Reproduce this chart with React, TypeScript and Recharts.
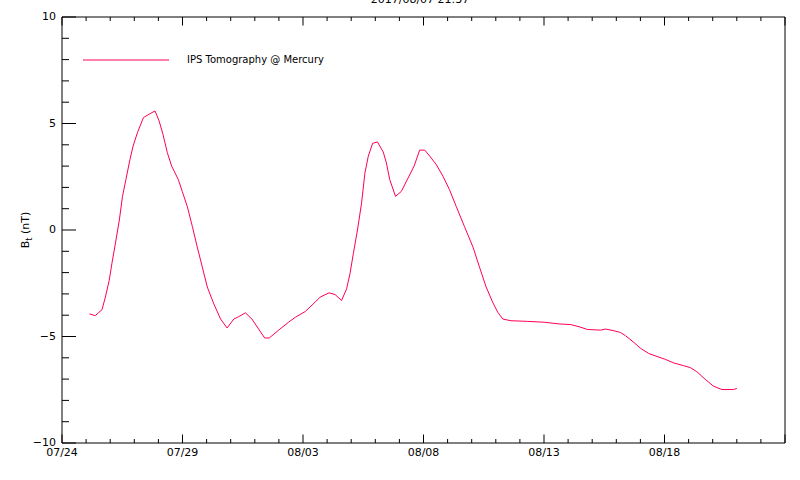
import React from "react";
import { LineChart, Line, XAxis, YAxis } from "recharts";

const dayOffsets = [
  1.14, 1.38, 1.66, 1.8, 1.96, 2.07, 2.24, 2.38, 2.51, 2.65, 2.82, 2.95, 3.13, 3.38, 3.62, 3.86,
  4.03, 4.19, 4.37, 4.55, 4.83, 4.99, 5.2, 5.41, 5.61, 5.82, 6.03, 6.3, 6.58, 6.85, 7.13, 7.33,
  7.61, 7.88, 8.16, 8.41, 8.6, 8.99, 9.4, 9.68, 10.09, 10.5, 10.71, 11.08, 11.33, 11.6, 11.81,
  11.95, 12.09, 12.26, 12.43, 12.57, 12.71, 12.89, 13.09, 13.33, 13.46, 13.6, 13.84, 14.08,
  14.36, 14.61, 14.84, 15.05, 15.26, 15.53, 15.81, 16.08, 16.36, 16.7, 17.05, 17.32, 17.6,
  17.87, 18.08, 18.29, 18.63, 19.32, 20.01, 20.63, 21.11, 21.45, 21.8, 22.35, 22.55, 22.9,
  23.17, 23.38, 23.73, 24.0, 24.35, 24.69, 25.03, 25.38, 25.79, 26.07, 26.34, 26.69, 27.03,
  27.38, 27.86, 28.0,
];

const btValues = [
  -3.94, -4.02, -3.74, -3.15, -2.36, -1.58, -0.47, 0.47, 1.58, 2.36, 3.31, 3.94, 4.57, 5.28, 5.44,
  5.59, 5.12, 4.49, 3.63, 3.0, 2.36, 1.81, 1.1, 0.16, -0.79, -1.73, -2.68, -3.47, -4.18, -4.6,
  -4.18, -4.07, -3.89, -4.18, -4.65, -5.07, -5.07, -4.7, -4.33, -4.1, -3.83, -3.39, -3.15, -2.95,
  -3.03, -3.31, -2.76, -2.05, -1.1, 0.0, 1.26, 2.68, 3.47, 4.07, 4.13, 3.66, 3.15, 2.36, 1.58,
  1.81, 2.44, 3.0, 3.75, 3.75, 3.47, 3.07, 2.52, 1.89, 1.1, 0.16, -0.79, -1.73, -2.68, -3.39,
  -3.86, -4.18, -4.26, -4.29, -4.33, -4.41, -4.44, -4.54, -4.67, -4.7, -4.65, -4.73, -4.81,
  -4.96, -5.28, -5.55, -5.8, -5.94, -6.07, -6.24, -6.37, -6.46, -6.65, -7.01, -7.33, -7.49,
  -7.49, -7.44,
];

const xTickDays = Array.from({ length: 31 }, (_, i) => i);
const xTickLabels: Record<number, string> = {
  0: "07/24",
  5: "07/29",
  10: "08/03",
  15: "08/08",
  20: "08/13",
  25: "08/18",
};
const yTickValues = Array.from({ length: 21 }, (_, i) => i - 10);
const yTickLabels: Record<number, string> = {
  10: "10",
  5: "5",
  0: "0",
  [-5]: "\u22125",
  [-10]: "\u221210",
};

const seriesName = "IPS Tomography @ Mercury";
const titleText = "2017/08/07 21:37";
const lineColor = "#ff0050";
const FONT = "'DejaVu Sans', sans-serif";

const data = dayOffsets.map((d, i) => ({ day: d, bt: btValues[i] }));

const BottomTick = (props: any) => {
  const { x, y, payload } = props;
  const v = payload.value as number;
  const major = v % 5 === 0;
  const len = major ? 8.5 : 4;
  return (
    <g>
      <line x1={x} y1={y} x2={x} y2={y - len} stroke="#000" strokeWidth={1} />
      {xTickLabels[v] !== undefined && (
        <text x={x} y={y + 13} textAnchor="middle" fontSize={11} fontFamily={FONT} fill="#000">
          {xTickLabels[v]}
        </text>
      )}
    </g>
  );
};

const TopTick = (props: any) => {
  const { x, y, payload } = props;
  const v = payload.value as number;
  const len = v % 5 === 0 ? 8.5 : 4;
  return <line x1={x} y1={y} x2={x} y2={y + len} stroke="#000" strokeWidth={1} />;
};

const LeftTick = (props: any) => {
  const { x, y, payload } = props;
  const v = payload.value as number;
  const major = v % 5 === 0;
  const len = major ? 14 : 7;
  return (
    <g>
      <line x1={x} y1={y} x2={x + len} y2={y} stroke="#000" strokeWidth={1} />
      {yTickLabels[v] !== undefined && (
        <text x={x - 6} y={y + 3} textAnchor="end" fontSize={11} fontFamily={FONT} fill="#000">
          {yTickLabels[v]}
        </text>
      )}
    </g>
  );
};

const YLabel = (props: any) => {
  const vb = props.viewBox || { x: 61, y: 17, height: 426 };
  const cx = vb.x - 32;
  const cy = vb.y + vb.height / 2;
  return (
    <text
      x={cx}
      y={cy}
      transform={`rotate(-90 ${cx} ${cy})`}
      textAnchor="middle"
      fontSize={11}
      fontFamily={FONT}
      fill="#000"
    >
      B
      <tspan fontSize={8} dy={3}>
        t
      </tspan>
      <tspan dy={-3}> (nT)</tspan>
    </text>
  );
};

export default function App() {
  return (
    <div style={{ position: "absolute", left: 0, top: 0, width: 800, height: 480, background: "#fff", overflow: "hidden" }}>
      <div
        style={{
          position: "absolute",
          left: 0,
          top: -6,
          width: 840,
          textAlign: "center",
          fontFamily: FONT,
          fontSize: 11,
          lineHeight: "12px",
          color: "#000",
        }}
      >
        {titleText}
      </div>
      <LineChart
        width={800}
        height={480}
        data={data}
        margin={{ top: 16, right: 14, bottom: 7, left: 61 }}
      >
        <XAxis
          xAxisId="bottom"
          dataKey="day"
          type="number"
          domain={[0, 30]}
          ticks={xTickDays}
          interval={0}
          allowDataOverflow
          height={30}
          tickSize={0}
          tickMargin={0}
          tickLine={false}
          axisLine={{ stroke: "#000" }}
          tick={<BottomTick />}
        />
        <XAxis
          xAxisId="top"
          orientation="top"
          dataKey="day"
          type="number"
          domain={[0, 30]}
          ticks={xTickDays}
          interval={0}
          allowDataOverflow
          height={1}
          tickSize={0}
          tickMargin={0}
          tickLine={false}
          axisLine={{ stroke: "#000" }}
          tick={<TopTick />}
        />
        <YAxis
          yAxisId="left"
          type="number"
          domain={[-10, 10]}
          ticks={yTickValues}
          interval={0}
          allowDataOverflow
          width={1}
          tickSize={0}
          tickMargin={0}
          tickLine={false}
          axisLine={{ stroke: "#000" }}
          tick={<LeftTick />}
          label={<YLabel />}
        />
        <YAxis
          yAxisId="right"
          orientation="right"
          type="number"
          domain={[-10, 10]}
          width={1}
          tick={false}
          tickLine={false}
          axisLine={{ stroke: "#000" }}
        />
        <Line
          xAxisId="bottom"
          yAxisId="left"
          type="linear"
          dataKey="bt"
          name={seriesName}
          stroke={lineColor}
          strokeWidth={1}
          dot={false}
          activeDot={false}
          isAnimationActive={false}
        />
      </LineChart>
      <svg
        width={260}
        height={16}
        style={{ position: "absolute", left: 83, top: 52, display: "block", overflow: "visible" }}
      >
        <line x1={0} y1={8} x2={86} y2={8} stroke={lineColor} strokeWidth={1} />
        <text x={104} y={11} fontSize={10} fontFamily={FONT} fill="#000">
          {seriesName}
        </text>
      </svg>
    </div>
  );
}
